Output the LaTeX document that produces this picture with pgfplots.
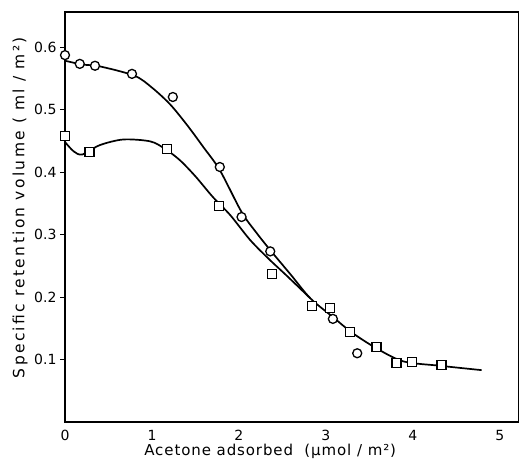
\documentclass[border=0pt]{standalone}
\usepackage{fontspec}
\setmainfont{DejaVu Sans}
\usepackage{pgfplots}
\pgfplotsset{compat=1.18}
\begin{document}
\begin{tikzpicture}
\begin{axis}[name=ax, scale only axis, width=454pt, height=410pt,
  xmin=0, xmax=5.22, ymin=0, ymax=0.656, clip=false,
  xtick={0,1,2,3,4,5}, ytick={0.1,0.2,0.3,0.4,0.5,0.6},
  /pgf/number format/.cd, fixed, precision=1, assume math mode=true, /pgfplots/.cd,
  tick label style={font=\fontsize{14}{16}\selectfont},
  axis line style={line width=1.3pt},
  tick align=outside, major tick length=5pt,
  xtick style={draw=none}, ytick style={line width=1pt, black},
  xlabel={Acetone adsorbed\ \ (μmol / m²)},
  ylabel={Specific retention volume ( ml / m²)},
  xlabel style={font=\fontsize{15}{17}\selectfont\addfontfeatures{LetterSpace=6}, at={(axis description cs:0.452,-0.081)}, anchor=base},
  ylabel style={font=\fontsize{15.5}{17}\selectfont\addfontfeatures{LetterSpace=15}, at={(axis description cs:-0.099,0.523)}, anchor=center},
]
% upper curve (circles)
\addplot[black, line width=1.7pt, smooth, no marks] coordinates {
(0,0.578) (0.2,0.572) (0.4,0.569) (0.8,0.554) (1.0,0.535) (1.21,0.508) (1.41,0.474) (1.59,0.440) (1.78,0.403) (2.03,0.336) (2.2,0.303) (2.36,0.275) (2.6,0.235) (2.82,0.198) (3.08,0.168) (3.3,0.143) (3.58,0.118) (3.89,0.097) (4.31,0.090) (4.79,0.083)
};
% lower curve (squares)
\addplot[black, line width=1.7pt, smooth, no marks] coordinates {
(0,0.448) (0.1,0.433) (0.2,0.428) (0.4,0.443) (0.67,0.452) (0.98,0.449) (1.15,0.437) (1.32,0.419) (1.50,0.393) (1.70,0.360) (1.90,0.331) (2.13,0.291) (2.35,0.260) (2.55,0.234) (2.82,0.198)
};
% circle data
\addplot[only marks, mark=*, mark size=4.5pt, mark options={line width=1.3pt, fill=white, draw=black}] coordinates {
(0,0.587) (0.17,0.573) (0.345,0.570) (0.77,0.557) (1.24,0.52) (1.78,0.408) (2.03,0.328) (2.36,0.273) (3.08,0.165) (3.36,0.11)
};
% square data
\addplot[only marks, mark=square*, mark size=4.5pt, mark options={line width=1.3pt, fill=white, draw=black}] coordinates {
(0,0.458) (0.28,0.432) (1.17,0.437) (1.77,0.346) (2.38,0.237) (2.84,0.186) (3.05,0.182) (3.28,0.144) (3.58,0.12) (3.81,0.094) (3.99,0.096) (4.33,0.091)
};
\end{axis}
\pgfresetboundingbox
\path[use as bounding box] ([xshift=-65pt,yshift=-37pt]ax.south west) rectangle ([yshift=12pt]ax.north east);
\end{tikzpicture}
\end{document}
